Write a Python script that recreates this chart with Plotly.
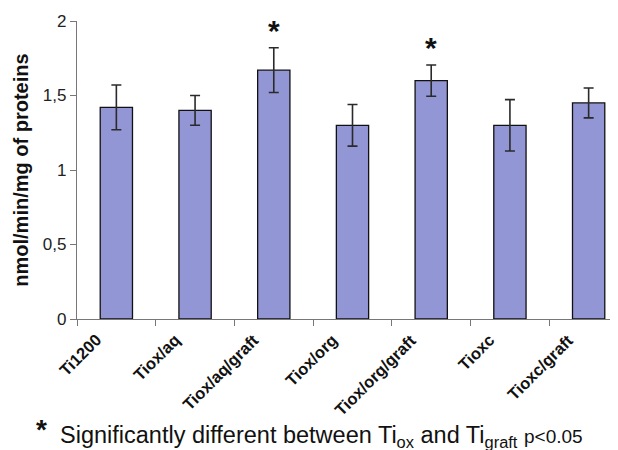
import plotly.graph_objects as go

categories = ["Ti1200", "Tiox/aq", "Tiox/aq/graft", "Tiox/org", "Tiox/org/graft", "Tioxc", "Tioxc/graft"]
values = [1.42, 1.40, 1.67, 1.30, 1.60, 1.30, 1.45]
errors = [0.15, 0.10, 0.15, 0.14, 0.105, 0.172, 0.10]
significant = [False, False, True, False, True, False, False]
y_ticks = [0, 0.5, 1, 1.5, 2]
y_tick_labels = ["0", "0,5", "1", "1,5", "2"]
y_title = "nmol/min/mg of proteins"
footnote = "Significantly different between Ti<sub>ox</sub> and Ti<sub>graft</sub> <span style='font-size:19px'>p<0.05</span>"

FONT = "Liberation Sans, Arial, sans-serif"

fig = go.Figure()
fig.add_trace(go.Bar(
    x=categories, y=values,
    marker=dict(color="#9396D4", line=dict(color="#111111", width=1.3)),
    error_y=dict(type="data", array=errors, color="#2a2a2a", thickness=1.6, width=5),
    width=0.41,
))

for c, v, e, s in zip(categories, values, errors, significant):
    if s:
        fig.add_annotation(x=c, y=v + e, text="<b>*</b>", showarrow=False,
                           yanchor="middle", yshift=17,
                           font=dict(family=FONT, size=30, color="#111111"))

# rotated category labels, anchored at each category on the x axis
for c in categories:
    fig.add_annotation(x=c, y=0, text="<b>" + c + "</b>", textangle=-45,
                       showarrow=False, xanchor="right", yanchor="top",
                       xshift=-9, yshift=-9,
                       font=dict(family=FONT, size=16.5, color="#111111"))

# y-axis title
fig.add_annotation(
    xref="paper", yref="paper", x=-0.104, y=0.5, xanchor="center", yanchor="middle",
    text="<b>" + y_title + "</b>", textangle=-90, showarrow=False,
    font=dict(family=FONT, size=20, color="#111111"))

# footnote
fig.add_annotation(
    xref="paper", yref="paper", x=-0.065, y=-0.37, xanchor="center", yanchor="middle",
    text="<b>*</b>", showarrow=False,
    font=dict(family=FONT, size=28, color="#111111"))
fig.add_annotation(
    xref="paper", yref="paper", x=-0.036, y=-0.394, xanchor="left", yanchor="middle",
    text=footnote, showarrow=False,
    font=dict(family=FONT, size=23.5, color="#111111"))

fig.update_layout(
    width=610, height=442,
    margin=dict(l=69, r=0, t=13, b=131),
    paper_bgcolor="white", plot_bgcolor="white",
    showlegend=False,
    font=dict(family=FONT, color="#111111"),
)
fig.update_yaxes(
    range=[0, 2], tickvals=y_ticks, ticktext=y_tick_labels,
    showline=True, linecolor="#777777", linewidth=1.2,
    ticks="outside", ticklen=6, tickcolor="#777777",
    showgrid=False, zeroline=False,
    tickfont=dict(size=17, color="#222222"),
)
fig.update_xaxes(
    range=[-0.5, 6.373],
    showline=True, linecolor="#777777", linewidth=1.2,
    ticks="outside", ticklen=6, tickcolor="#777777", tickson="boundaries",
    showticklabels=False,
    showgrid=False,
)

fig.write_html("out.html")
